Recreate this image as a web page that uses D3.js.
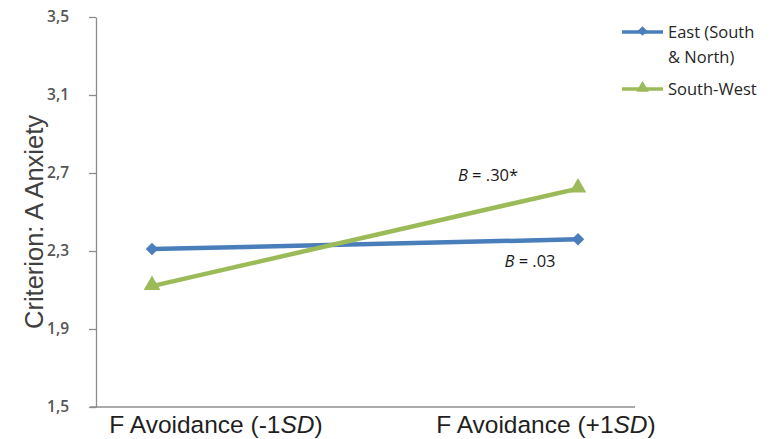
<!DOCTYPE html>
<html>
<head>
<meta charset="utf-8">
<script src="https://cdn.jsdelivr.net/npm/d3@7"></script>
<style>
  body { margin: 0; background: #fff; }
</style>
</head>
<body>
<div id="container"></div>
<script>
const categories = ['-1', '+1'];
const seriesNames = ['East (South & North)', 'South-West'];
const eastValues = [2.31, 2.36];
const southWestValues = [2.12, 2.62];
const yTicks = [1.5, 1.9, 2.3, 2.7, 3.1, 3.5];
const slopeLabels = ['.03', '.30*'];

const W = 773, H = 439;
const svg = d3.select('#container')
    .append('svg')
    .attr('width', W)
    .attr('height', H)
    .style('font-family', 'Liberation Sans, Arial, sans-serif');

const y = d3.scaleLinear().domain([1.5, 3.5]).range([407, 17]);
const x = d3.scalePoint().domain(categories).range([152, 578]);
const xLabel = d3.scalePoint().domain(categories).range([216, 546]);

const blue = '#4a7ebb';
const green = '#9bbb59';

// y axis
const yAxis = svg.append('g')
    .attr('transform', 'translate(96,0)')
    .call(d3.axisLeft(y).tickValues(yTicks).tickSize(7).tickSizeOuter(0)
        .tickFormat(d => d3.format('.1f')(d).replace('.', ',')));
yAxis.select('.domain').attr('stroke', '#8c8c8c').attr('stroke-width', 1.3);
yAxis.selectAll('.tick line').attr('stroke', '#8c8c8c').attr('stroke-width', 1.3);
yAxis.selectAll('.tick text')
    .attr('x', -27)
    .attr('fill', '#555')
    .attr('font-weight', 600)
    .style('font-family', 'Open Sans, sans-serif')
    .style('font-size', '15.5px');

// x axis line
svg.append('line')
    .attr('x1', 90).attr('x2', 635)
    .attr('y1', y(1.5)).attr('y2', y(1.5))
    .attr('stroke', '#8c8c8c').attr('stroke-width', 1.3);

// x labels
categories.forEach(c => {
    const t = svg.append('text')
        .attr('x', xLabel(c))
        .attr('y', 433)
        .attr('text-anchor', 'middle')
        .attr('fill', '#1f1f1f')
        .style('font-size', '24.5px');
    t.append('tspan').text('F Avoidance (' + c);
    t.append('tspan').attr('font-style', 'italic').text('SD');
    t.append('tspan').text(')');
});

// y title
svg.append('text')
    .attr('transform', 'translate(43,222) rotate(-90)')
    .attr('text-anchor', 'middle')
    .attr('fill', '#404040')
    .style('font-size', '25.5px')
    .text('Criterion: A Anxiety');

const line = d3.line().x((d, i) => x(categories[i])).y(d => y(d));

// East
svg.append('path')
    .datum(eastValues)
    .attr('d', line)
    .attr('fill', 'none')
    .attr('stroke', blue)
    .attr('stroke-width', 4.5);
svg.selectAll('.east-pt')
    .data(eastValues).enter()
    .append('path')
    .attr('class', 'east-pt')
    .attr('transform', (d, i) => `translate(${x(categories[i])},${y(d)})`)
    .attr('d', d3.symbol().type(d3.symbolDiamond2).size(100))
    .attr('fill', blue);

// South-West
svg.append('path')
    .datum(southWestValues)
    .attr('d', line)
    .attr('fill', 'none')
    .attr('stroke', green)
    .attr('stroke-width', 4.5);
svg.selectAll('.sw-pt')
    .data(southWestValues).enter()
    .append('path')
    .attr('class', 'sw-pt')
    .attr('transform', (d, i) => `translate(${x(categories[i])},${y(d) - 1})`)
    .attr('d', d3.symbol().type(d3.symbolTriangle).size(120))
    .attr('fill', green);

// slope annotations
const annot = [
    { label: slopeLabels[0], x: 530, v: 2.22 },
    { label: slopeLabels[1], x: 488, v: 2.66 }
];
annot.forEach(a => {
    const t = svg.append('text')
        .attr('x', a.x)
        .attr('y', y(a.v))
        .attr('text-anchor', 'middle')
        .attr('fill', '#1a1a1a')
        .style('font-family', 'Open Sans, sans-serif')
        .style('font-size', '16.5px');
    t.append('tspan').attr('font-style', 'italic').text('B');
    t.append('tspan').text(' = ' + a.label);
});

// legend
const legend = svg.append('g').attr('transform', 'translate(622,0)');
const legendRows = [
    { name: seriesNames[0], color: blue, sym: d3.symbolDiamond2, size: 60, y: 32, lines: ['East (South', '& North)'] },
    { name: seriesNames[1], color: green, sym: d3.symbolTriangle, size: 70, y: 89, lines: ['South-West'] }
];
legendRows.forEach(r => {
    legend.append('line')
        .attr('x1', 0).attr('x2', 41)
        .attr('y1', r.y).attr('y2', r.y)
        .attr('stroke', r.color).attr('stroke-width', 3.5);
    legend.append('path')
        .attr('transform', `translate(20.5,${r.y - 1})`)
        .attr('d', d3.symbol().type(r.sym).size(r.size))
        .attr('fill', r.color);
    r.lines.forEach((l, i) => {
        legend.append('text')
            .attr('x', 46)
            .attr('y', r.y + 6 + i * 25)
            .attr('fill', '#262626')
            .style('font-family', 'Open Sans, sans-serif')
            .style('font-size', '16.5px')
            .text(l);
    });
});
</script>
</body>
</html>
